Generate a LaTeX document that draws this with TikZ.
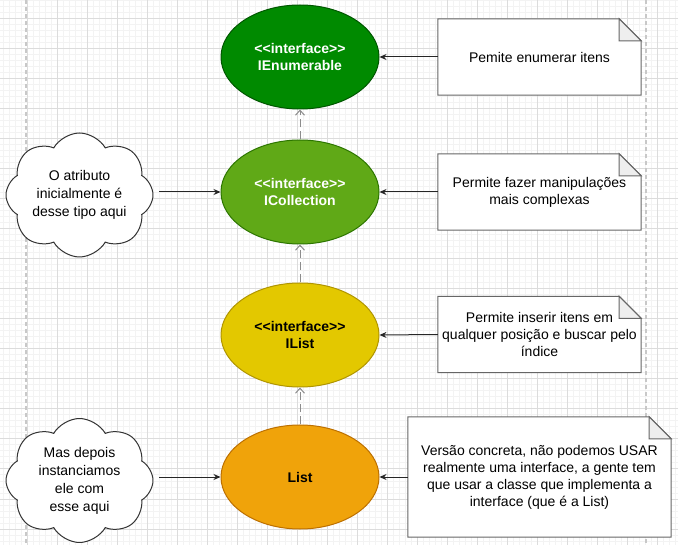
\documentclass[tikz,border=0pt]{standalone}
\usepackage{fontspec}
\setmainfont{Liberation Sans}
\usetikzlibrary{shapes.geometric,shapes.symbols,arrows.meta}
\definecolor{enum-fill}{HTML}{008A00}
\definecolor{enum-line}{HTML}{005700}
\definecolor{coll-fill}{HTML}{60A917}
\definecolor{coll-line}{HTML}{2D7600}
\definecolor{ilist-fill}{HTML}{E3C800}
\definecolor{ilist-line}{HTML}{B09500}
\definecolor{list-fill}{HTML}{F0A30A}
\definecolor{list-line}{HTML}{BD7000}
\definecolor{note-line}{HTML}{666666}
\definecolor{fold-fill}{HTML}{EEEEEE}
\definecolor{grid-minor}{HTML}{F3F3F3}
\definecolor{grid-major}{HTML}{DCDCDC}
\definecolor{page-line}{HTML}{C8C8C8}
\definecolor{dep-line}{HTML}{8C8C8C}
\pgfdeclarelayer{backdrop}
\pgfdeclarelayer{background}
\pgfsetlayers{backdrop,background,main}
\newcommand{\stereo}{<{}<interface>{}>}
\tikzset{
    iface-ellipse/.style = {ellipse, line width=1pt, minimum width=158pt, minimum height=104pt, inner sep=0pt, align=center, font=\bfseries\fontsize{14}{17}\selectfont},
    note-box/.style = {rectangle, minimum width=203pt, minimum height=76pt, inner sep=0pt, align=center, font=\fontsize{14}{17}\selectfont},
    note-edge/.style = {draw=note-line, fill=white, line width=1pt},
    note-fold/.style = {draw=note-line, fill=fold-fill, line width=1pt},
    thought-cloud/.style = {cloud, cloud puffs=8, cloud puff arc=120, cloud ignores aspect, draw=black!80, fill=white, line width=1pt, minimum width=147pt, minimum height=124pt, inner sep=0pt, align=center, font=\fontsize{14}{18}\selectfont},
    plain-arrow/.style = {-{Stealth[length=7pt,width=6pt]}, line width=1pt, draw=black!85},
    dep-arrow/.style = {-{Straight Barb[length=5pt,width=9pt]}, dash pattern=on 8pt off 4pt, line width=1pt, draw=dep-line},
}

\begin{document}
\begin{tikzpicture}[x=1pt, y=-1pt]
\useasboundingbox (0,0) rectangle (678,545);

% grid paper
\begin{pgfonlayer}{backdrop}
\fill[white] (0,0) rectangle (678,545);
\foreach \x in {3,9,...,675} \draw[grid-minor, line width=1pt] (\x,0) -- (\x,545);
\foreach \y in {1,7,...,541} \draw[grid-minor, line width=1pt] (0,\y) -- (678,\y);
\foreach \x in {27,57,...,657} \draw[grid-major, line width=1pt] (\x,0) -- (\x,545);
\foreach \y in {19,49,...,529} \draw[grid-major, line width=1pt] (0,\y) -- (678,\y);
\draw[page-line, line width=1.5pt, dash pattern=on 4pt off 3pt] (26,0) -- (26,545);
\draw[page-line, line width=1.5pt, dash pattern=on 4pt off 3pt] (646,0) -- (646,545);
\end{pgfonlayer}

% interfaces and class
\node[iface-ellipse, draw=enum-line, fill=enum-fill, text=white] (enum) at (300,57) {\stereo\\IEnumerable};
\node[iface-ellipse, draw=coll-line, fill=coll-fill, text=white] (icoll) at (300,192) {\stereo\\ICollection};
\node[iface-ellipse, draw=ilist-line, fill=ilist-fill, text=black] (ilist) at (300,335) {\stereo\\IList};
\node[iface-ellipse, draw=list-line, fill=list-fill, text=black] (list) at (300,477) {List};

% notes
\node[note-box] (note-enum) at (539.5,57) {Pemite enumerar itens};
\node[note-box] (note-coll) at (539.5,192) {Permite fazer manipulações\\mais complexas};
\node[note-box] (note-ilist) at (539.5,334.5) {Permite inserir itens em\\qualquer posição e buscar pelo\\índice};
\node[note-box, minimum width=263pt, minimum height=120pt] (note-list) at (539.5,477) {Versão concreta, não podemos USAR\\realmente uma interface, a gente tem\\que usar a classe que implementa a\\interface (que é a List)};

\begin{pgfonlayer}{background}
\foreach \n in {note-enum,note-coll,note-ilist,note-list} {
    \draw[note-edge] (\n.south west) -- (\n.north west) -- ([xshift=-22pt]\n.north east)
        -- ([yshift=-22pt]\n.north east) -- (\n.south east) -- cycle;
    \draw[note-fold] ([xshift=-22pt]\n.north east) -- ([xshift=-22pt,yshift=-22pt]\n.north east)
        -- ([yshift=-22pt]\n.north east) -- cycle;
}
\end{pgfonlayer}

% clouds
\node[thought-cloud] (cloud-first) at (79.5,195) {O atributo\\inicialmente é\\desse tipo aqui};
\node[thought-cloud] (cloud-later) at (79.5,480.5) {Mas depois\\instanciamos\\ele com\\esse aqui};

% connectors
\draw[dep-arrow] (icoll.north) -- (enum.south);
\draw[dep-arrow] (ilist.north) -- (icoll.south);
\draw[dep-arrow] (list.north) -- (ilist.south);
\draw[plain-arrow] (note-enum.west) -- (enum.east);
\draw[plain-arrow] (note-coll.west) -- (icoll.east);
\draw[plain-arrow] (note-ilist.west) -- (ilist.east);
\draw[plain-arrow] (note-list.west) -- (list.east);
\draw[plain-arrow, shorten <=6pt] (cloud-first.east |- icoll) -- (icoll.west);
\draw[plain-arrow, shorten <=6pt] (cloud-later.east |- list) -- (list.west);
\end{tikzpicture}
\end{document}
